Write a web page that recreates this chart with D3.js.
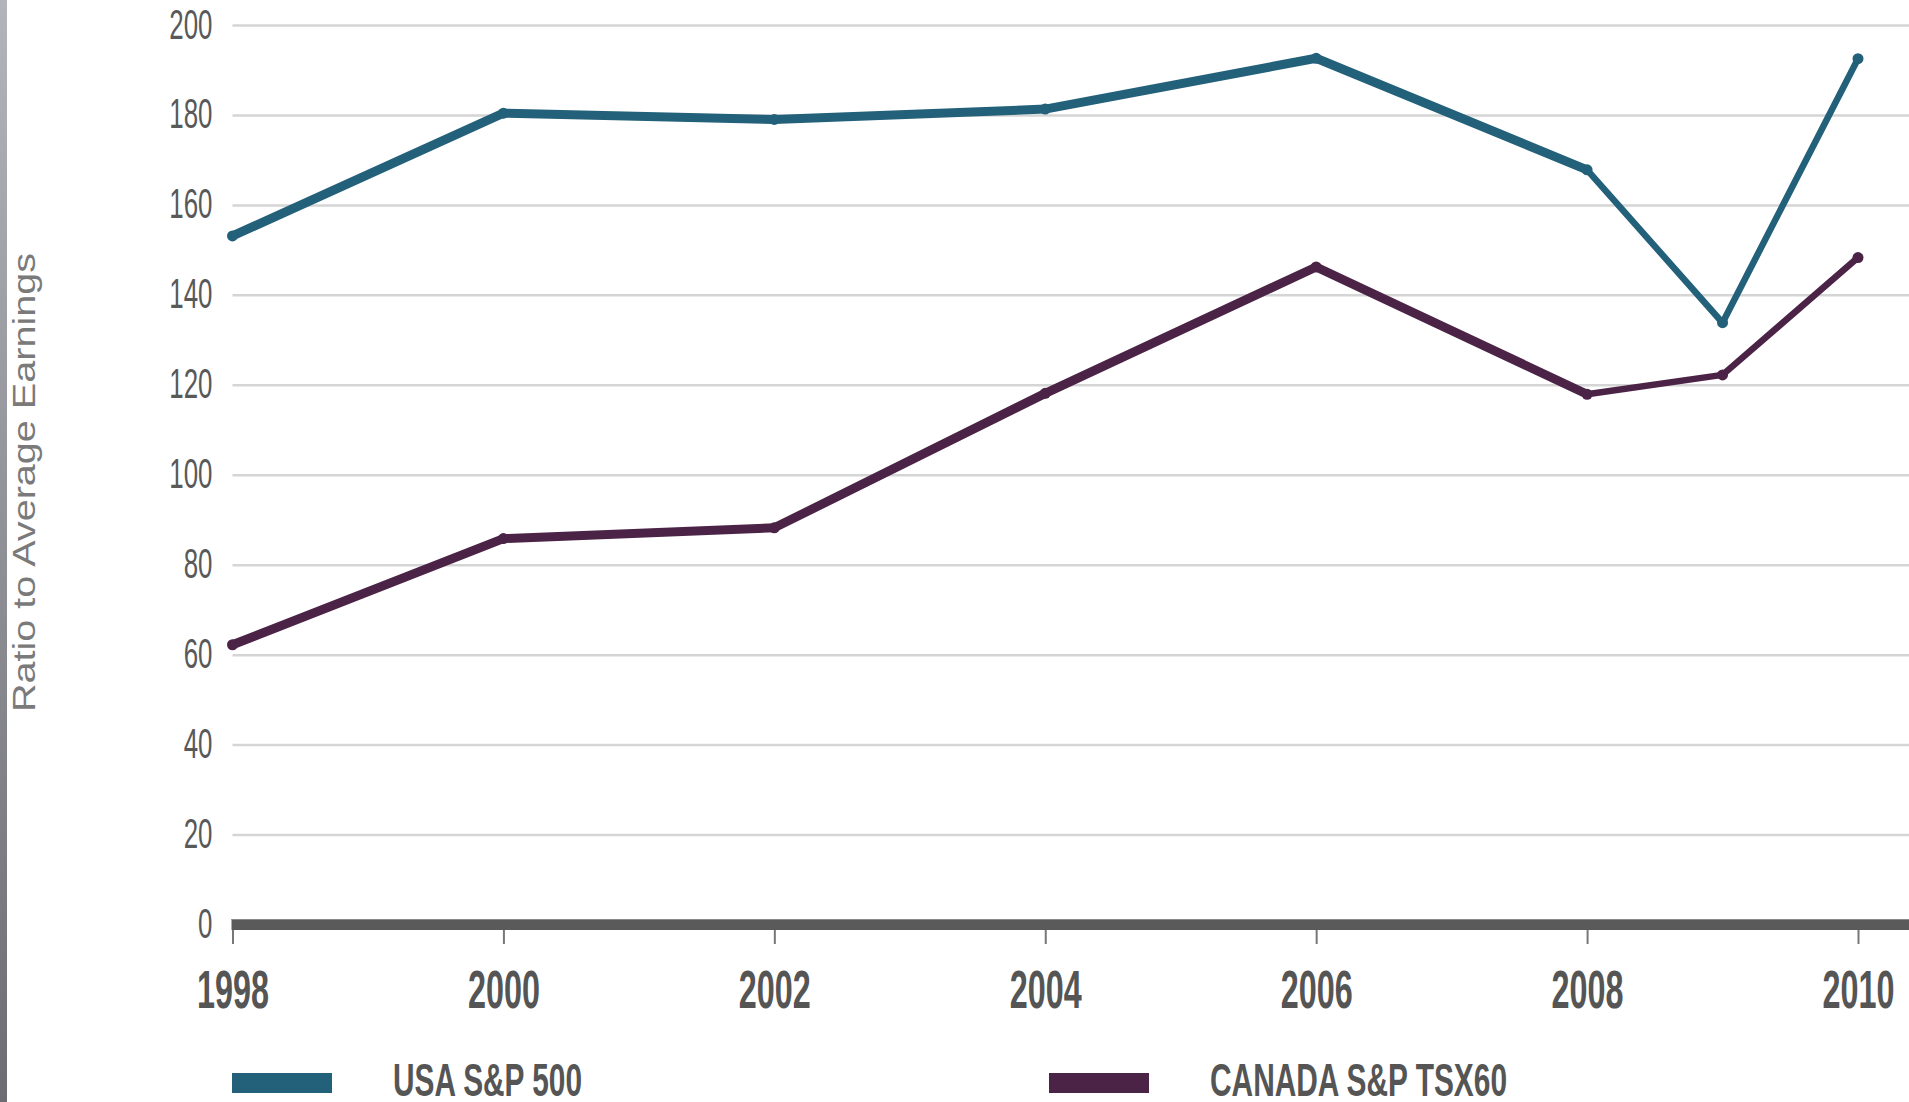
<!DOCTYPE html>
<html>
<head>
<meta charset="utf-8">
<script src="https://cdn.jsdelivr.net/npm/d3@7"></script>
<style>
  html, body { margin: 0; padding: 0; background: #ffffff; }
  svg { display: block; }
</style>
</head>
<body>
<svg id="chart" width="1909" height="1102"></svg>
<script>
// Ratio to average earnings, USA vs Canada indices
const years = [1998, 2000, 2002, 2004, 2006, 2008, 2009, 2010];
const usaSP500 = [153.1, 180.4, 179.0, 181.3, 192.6, 167.8, 133.8, 192.5];
const canadaTSX60 = [62.2, 85.8, 88.2, 118.1, 146.2, 117.9, 122.2, 148.3];
const xTickYears = [1998, 2000, 2002, 2004, 2006, 2008, 2010];
const yTickValues = [0, 20, 40, 60, 80, 100, 120, 140, 160, 180, 200];
const seriesNames = ["USA S&P 500", "CANADA S&P TSX60"];
const seriesColors = ["#236079", "#4b2346"];
const yTitle = "Ratio to Average Earnings";

const W = 1909, H = 1102;
const svg = d3.select("#chart");

const x = d3.scaleLinear().domain([1998, 2010]).range([232.5, 1858]);
const y = d3.scaleLinear().domain([0, 200]).range([924.5, 25]);

const condensed = "'Liberation Sans Narrow', 'Liberation Sans', Arial, sans-serif";

// squeeze a text node horizontally to a given width
function squeeze(sel, widthFn) {
  sel.each(function(d, i) {
    const w = widthFn.call(this, d, i);
    d3.select(this).attr("textLength", w).attr("lengthAdjust", "spacingAndGlyphs");
  });
}

// left edge strip
const defs = svg.append("defs");
const grad = defs.append("linearGradient").attr("id", "edge")
  .attr("x1", 0).attr("y1", 0).attr("x2", 0).attr("y2", 1);
grad.append("stop").attr("offset", "0%").attr("stop-color", "#b3b3bb");
grad.append("stop").attr("offset", "100%").attr("stop-color", "#6c6c72");
svg.append("rect").attr("x", 0).attr("y", 0).attr("width", 7).attr("height", H)
  .attr("fill", "url(#edge)");

// horizontal gridlines
const grid = svg.append("g").attr("transform", `translate(${x.range()[0]},0)`)
  .call(d3.axisLeft(y).tickValues(yTickValues.filter(v => v > 0))
    .tickSize(-(W - x.range()[0])).tickFormat(""));
grid.select(".domain").remove();
grid.selectAll(".tick line").attr("stroke", "#d5d5d5").attr("stroke-width", 2.5);

// y tick labels
const yAxis = svg.append("g").attr("transform", `translate(${x.range()[0]},0)`)
  .call(d3.axisLeft(y).tickValues(yTickValues).tickSize(0).tickPadding(20));
yAxis.select(".domain").remove();
yAxis.selectAll(".tick text")
  .attr("font-family", condensed)
  .attr("font-size", 42)
  .attr("fill", "#595959")
  .attr("dy", "0.31em");
squeeze(yAxis.selectAll(".tick text"), d => String(d).length * 14.4);

// x axis: ticks and labels
const xAxis = svg.append("g").attr("transform", "translate(0,929)")
  .call(d3.axisBottom(x).tickValues(xTickYears).tickFormat(d3.format("d"))
    .tickSize(15).tickPadding(26));
xAxis.select(".domain").remove();
xAxis.selectAll(".tick line").attr("stroke", "#777").attr("stroke-width", 2);
xAxis.selectAll(".tick text")
  .attr("font-family", condensed)
  .attr("font-weight", "bold")
  .attr("font-size", 53)
  .attr("fill", "#555");
squeeze(xAxis.selectAll(".tick text"), () => 72);

// thick baseline at zero
svg.append("line")
  .attr("x1", x.range()[0] - 1).attr("x2", W)
  .attr("y1", y(0)).attr("y2", y(0))
  .attr("stroke", "#5a5a5a").attr("stroke-width", 11);
svg.append("line")
  .attr("x1", x.range()[0] - 1).attr("x2", W)
  .attr("y1", y(0) - 5).attr("y2", y(0) - 5)
  .attr("stroke", "#8a8a8a").attr("stroke-width", 1);

// y axis title
svg.append("text")
  .attr("transform", `translate(35,${(253 + 712) / 2}) rotate(-90)`)
  .attr("text-anchor", "middle")
  .attr("font-family", "'Liberation Sans', Arial, sans-serif")
  .attr("font-size", 31)
  .attr("fill", "#7a7a7a")
  .text(yTitle)
  .call(s => squeeze(s, () => 459));

// series lines (segments into and out of the half-step year are drawn lighter) and markers
const series = [usaSP500, canadaTSX60];
series.forEach((vals, k) => {
  const pts = vals.map((v, i) => [x(years[i]), y(v), years[i]]);
  svg.append("g").selectAll("line")
    .data(d3.pairs(pts))
    .join("line")
    .attr("x1", d => d[0][0]).attr("y1", d => d[0][1])
    .attr("x2", d => d[1][0]).attr("y2", d => d[1][1])
    .attr("stroke", seriesColors[k])
    .attr("stroke-width", d => (d[0][2] % 2 || d[1][2] % 2) ? 6.5 : 9)
    .attr("stroke-linecap", "round");
  svg.append("g").selectAll("circle")
    .data(pts)
    .join("circle")
    .attr("cx", d => d[0])
    .attr("cy", d => d[1])
    .attr("r", 5.5)
    .attr("fill", seriesColors[k]);
});

// legend
const legendX = [232, 1049];
const legendTextWidths = [189, 297];
seriesNames.forEach((name, k) => {
  svg.append("rect")
    .attr("x", legendX[k]).attr("y", 1073)
    .attr("width", 100).attr("height", 20)
    .attr("fill", seriesColors[k]);
  svg.append("text")
    .attr("x", legendX[k] + 161).attr("y", 1096)
    .attr("font-family", condensed)
    .attr("font-weight", "bold")
    .attr("font-size", 46)
    .attr("fill", "#555")
    .text(name)
    .call(s => squeeze(s, () => legendTextWidths[k]));
});
</script>
</body>
</html>
